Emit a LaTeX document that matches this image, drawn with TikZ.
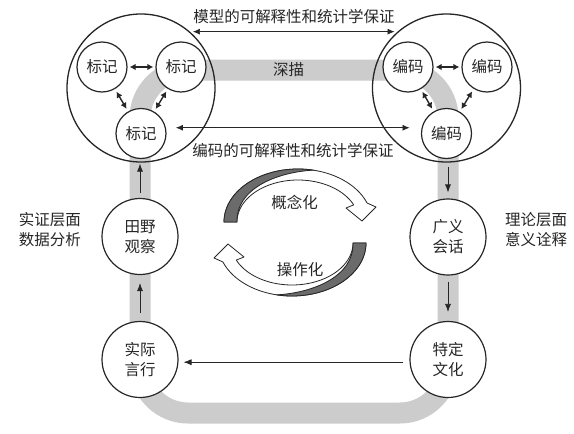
\documentclass[tikz,border=0pt]{standalone}
\usepackage{fontspec}
\newfontfamily\cjkf{Noto Sans CJK SC}
\usetikzlibrary{arrows.meta}
\begin{document}
\begin{tikzpicture}[x=1pt,y=-1pt,
  txt/.style={font=\cjkf\fontsize{15.5}{20}\selectfont, text=black!85, align=center, inner sep=0pt},
  bigc/.style={circle, draw=black!85, line width=1.3pt, minimum size=148pt, inner sep=0pt},
  smallc/.style={circle, draw=black!85, line width=1.2pt, fill=white, minimum size=50pt, inner sep=0pt, txt},
  loopc/.style={circle, draw=black!85, line width=1.2pt, fill=white, minimum size=76pt, inner sep=0pt, txt},
  band/.style={line width=21pt, draw=black!20},
  dbl/.style={{Latex[length=6pt,width=6.5pt]}-{Latex[length=6pt,width=6.5pt]}, line width=1.4pt, draw=black!85},
  longarr/.style={{Latex[length=7pt,width=6pt]}-{Latex[length=7pt,width=6pt]}, line width=0.7pt, draw=black!85},
  flow/.style={-{Latex[length=8pt,width=6pt]}, line width=0.7pt, draw=black!85},
  rib/.style={fill=white, draw=black!85, line width=0.8pt, line join=round},
  dark/.style={fill=black!58, draw=black!85, line width=0.8pt, line join=round},
  cyclearrow/.pic={
    \path[rib] plot[domain=180:339, samples=50] ({74*cos(\x)},{53*sin(\x)}) -- (78,-15) -- (64,-1) -- (48,-14)
      -- plot[domain=336:180, samples=50] ({61*cos(\x)},{42*sin(\x)}) -- cycle;
    \path[dark] plot[domain=180:282, samples=40] ({74*cos(\x)},{53*sin(\x)}) .. controls (-20,-50) and (-62,-34) .. (-61,0) -- cycle;
  }
]
\useasboundingbox (0,0) rectangle (574,434);
\fill[white] (0,0) rectangle (574,434);

% grey band
\draw[band, rounded corners=48pt] (140,70) rectangle (448,413);

% big circles
\node[bigc] (L) at (141,88) {};
\node[bigc] (R) at (446.5,88) {};

% small circles
\node[smallc] (L1) at (102,67) {标记};
\node[smallc] (L2) at (181,67) {标记};
\node[smallc] (L3) at (141,133.5) {标记};
\node[smallc] (R1) at (408,67) {编码};
\node[smallc] (R2) at (487,67) {编码};
\node[smallc] (R3) at (446.5,133.5) {编码};

\draw[dbl, shorten <=2pt, shorten >=2pt] (L1) -- (L2);
\draw[dbl, shorten <=3pt, shorten >=3pt] (L1) -- (L3);
\draw[dbl, shorten <=3pt, shorten >=3pt] (L2) -- (L3);
\draw[dbl, shorten <=2pt, shorten >=2pt] (R1) -- (R2);
\draw[dbl, shorten <=3pt, shorten >=3pt] (R1) -- (R3);
\draw[dbl, shorten <=3pt, shorten >=3pt] (R2) -- (R3);

% loop circles
\node[loopc] (F) at (140,236.5) {田野\\观察};
\node[loopc] (S) at (140,359.5) {实际\\言行};
\node[loopc] (G) at (448,237) {广义\\会话};
\node[loopc] (T) at (448,359.5) {特定\\文化};

% long arrows
\draw[longarr, shorten <=3pt, shorten >=3pt] (L.49) -- (R.131);
\draw[longarr, shorten <=10pt, shorten >=12pt] (L3.13) -- (R3.167);

% flow arrows
\draw[flow, shorten <=8pt, shorten >=8pt] (S.north) -- (F.south);
\draw[flow, shorten <=5pt, shorten >=1pt] (F.north) -- (F.north |- L.south);
\draw[flow, shorten <=4pt, shorten >=6pt] (G.north |- R.south) -- (G.north);
\draw[flow, shorten <=6pt, shorten >=9pt] (G.south) -- (T.north);
\draw[flow, shorten <=6pt, shorten >=5pt] (T.184) -- (S.356);

% labels
\node[txt] (lt) at (294,17) {模型的可解释性和统计学保证};
\node[txt] (lb) at (293,151) {编码的可解释性和统计学保证};
\node[txt] (ls) at (288.5,70) {深描};
\node[txt] (ll) at (50,230) {实证层面\\数据分析};
\node[txt] (lr) at (536,230) {理论层面\\意义诠释};

% cycle arrows
\pic at (298,222) {cyclearrow};
\pic[rotate=180] at (292,243) {cyclearrow};
\node[txt] (c1) at (294.5,202) {概念化};
\node[txt] (c2) at (300,270) {操作化};
\end{tikzpicture}
\end{document}
